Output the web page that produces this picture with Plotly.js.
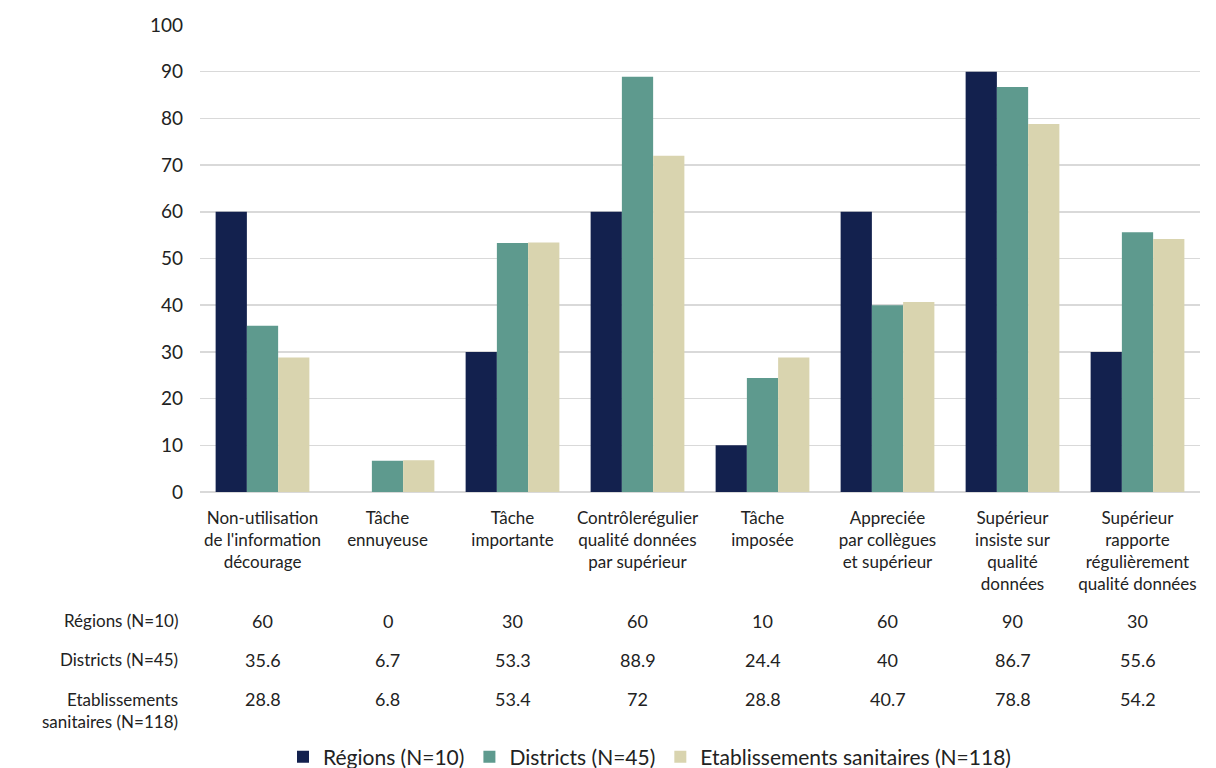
<!DOCTYPE html>
<html>
<head>
<meta charset="utf-8">
<script src="https://cdn.plot.ly/plotly-3.0.1.min.js"></script>
<style>html,body{margin:0;padding:0;background:#fff;}#chart{width:1216px;height:768px;}</style>
</head>
<body>
<div id="chart"></div>
<script>
const categories = [
  "Non-utilisation<br>de l'information<br>décourage",
  "Tâche<br>ennuyeuse",
  "Tâche<br>importante",
  "Contrôlerégulier<br>qualité données<br>par supérieur",
  "Tâche<br>imposée",
  "Appreciée<br>par collègues<br>et supérieur",
  "Supérieur<br>insiste sur<br>qualité<br>données",
  "Supérieur<br>rapporte<br>régulièrement<br>qualité données"
];
const seriesNames = ["Régions (N=10)", "Districts (N=45)", "Etablissements sanitaires (N=118)"];
const tableRowLabels = ["Régions (N=10)", "Districts (N=45)", "Etablissements<br>sanitaires (N=118)"];
const regions = [60, 0, 30, 60, 10, 60, 90, 30];
const districts = [35.6, 6.7, 53.3, 88.9, 24.4, 40, 86.7, 55.6];
const etablissements = [28.8, 6.8, 53.4, 72, 28.8, 40.7, 78.8, 54.2];
const colors = ["#13214e", "#5e9a8e", "#d9d4af"];

const FONT = "Lato, 'Open Sans', sans-serif";
const TXT = "#222222";
const allSeries = [regions, districts, etablissements];

const traces = allSeries.map((vals, i) => ({
  type: "bar",
  name: seriesNames[i],
  x: categories,
  y: vals,
  marker: {color: colors[i]},
  hoverinfo: "skip"
}));

const rowY = [-0.2762, -0.3597, -0.4433];
const annotations = [];
allSeries.forEach((vals, r) => {
  vals.forEach((v, c) => {
    annotations.push({
      x: categories[c], xref: "x", y: rowY[r], yref: "paper",
      text: String(v), showarrow: false, xanchor: "center", yanchor: "middle",
      font: {family: FONT, size: 18, color: TXT}
    });
  });
});
const labelY = [-0.2762, -0.3597, -0.4679];
tableRowLabels.forEach((t, r) => {
  annotations.push({
    x: -0.02, xref: "paper", y: labelY[r], yref: "paper",
    text: t, showarrow: false, xanchor: "right", yanchor: "middle", align: "right",
    font: {family: FONT, size: 17, color: TXT}
  });
});

const layout = {
  width: 1216, height: 768,
  margin: {l: 200, r: 16, t: 25, b: 276, autoexpand: false},
  paper_bgcolor: "#ffffff", plot_bgcolor: "#ffffff",
  font: {family: FONT, size: 17, color: TXT},
  barmode: "group", bargap: 0.25, bargroupgap: 0,
  showlegend: true,
  legend: {orientation: "h", x: 0.083, xanchor: "left", y: -0.5675, yanchor: "middle",
           font: {family: FONT, size: 21, color: TXT}, traceorder: "normal"},
  xaxis: {type: "category", showgrid: false, showline: false, zeroline: false,
          ticks: "", ticklabelstandoff: 14, tickfont: {family: FONT, size: 17, color: TXT}, tickangle: 0, automargin: false},
  yaxis: {range: [0, 100], dtick: 10, showgrid: true, gridcolor: "#d9d9d9", gridwidth: 1.5,
          zeroline: true, zerolinecolor: "#d9d9d9", zerolinewidth: 1.5, showline: false,
          ticks: "", ticklabelstandoff: 16, tickfont: {family: FONT, size: 19, color: TXT}, automargin: false},
  annotations: annotations
};

Plotly.newPlot("chart", traces, layout, {displayModeBar: false, staticPlot: true});
</script>
</body>
</html>
